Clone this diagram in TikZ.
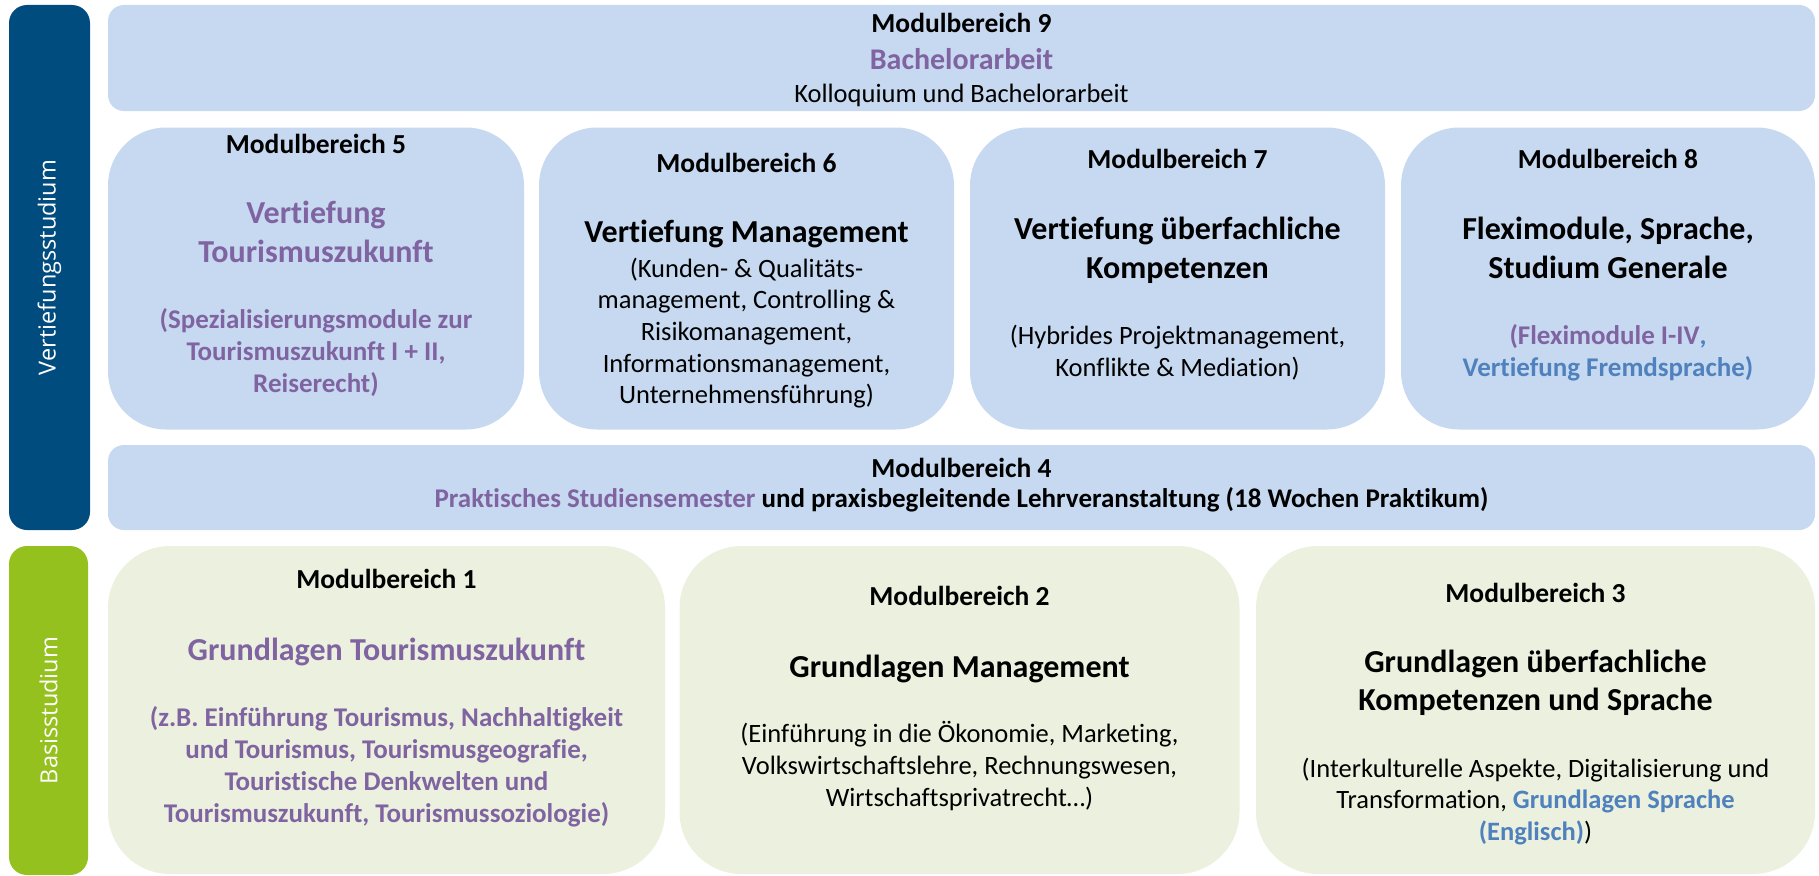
\documentclass[tikz,border=0pt]{standalone}
\usepackage{fontspec}
\setmainfont{Carlito}[Ligatures={NoCommon,TeX}]
\newfontfamily\sidefont{Open Sans}
\definecolor{lblue}{HTML}{C6D9F0}
\definecolor{lgreen}{HTML}{EBF1DE}
\definecolor{dblue}{HTML}{014C7F}
\definecolor{bgreen}{HTML}{95C11F}
\definecolor{lila}{HTML}{8064A2}
\definecolor{tblue}{HTML}{4F81BD}
\tikzset{
  bluebox/.style={fill=lblue, draw=none, rounded corners=58pt, inner sep=0},
  greenbox/.style={fill=lgreen, draw=none, rounded corners=62pt, inner sep=0},
  widebox/.style={fill=lblue, draw=none, rounded corners=16pt, inner sep=0},
  sidebar/.style={draw=none, rounded corners=18pt, inner sep=0},
  sidetext/.style={rotate=90, text=white, font=\sidefont\fontsize{23.5}{28}\selectfont, inner sep=0},
  hdr/.style={anchor=base, inner sep=0, font=\fontsize{27.5}{33}\selectfont\bfseries},
  ttl/.style={anchor=base, inner sep=0, font=\fontsize{32}{39}\selectfont\bfseries},
  btxt/.style={anchor=base, inner sep=0, font=\fontsize{27}{33}\selectfont\bfseries},
  bdy/.style={anchor=base, inner sep=0, font=\fontsize{26.5}{32}\selectfont},
}
\begin{document}
\begin{tikzpicture}[x=1pt, y=-1pt]
\useasboundingbox (0,0) rectangle (1819,875);
% side bars
\node[sidebar, fill=dblue, minimum width=81pt, minimum height=525pt] (vbar) at (49.5,267.5) {};
\node[sidebar, fill=bgreen, minimum width=79pt, minimum height=329pt] (bbar) at (48.5,710.5) {};
\node[sidetext] (vtxt) at (vbar.center) {Vertiefungsstudium};
\node[sidetext] (btxt0) at (bbar.center) {Basisstudium};
% boxes
\node[widebox, minimum width=1707pt, minimum height=106pt] (mb9) at (961.5,58) {};
\node[bluebox, minimum width=416pt, minimum height=302pt] (mb5) at (316,278.5) {};
\node[bluebox, minimum width=415pt, minimum height=302pt] (mb6) at (746.5,278.5) {};
\node[bluebox, minimum width=415pt, minimum height=302pt] (mb7) at (1177.5,278.5) {};
\node[bluebox, minimum width=414pt, minimum height=302pt] (mb8) at (1608,278.5) {};
\node[widebox, minimum width=1707pt, minimum height=85pt] (mb4) at (961.5,487.5) {};
\node[greenbox, minimum width=557pt, minimum height=328pt] (mb1) at (386.5,710) {};
\node[greenbox, minimum width=560pt, minimum height=328pt] (mb2) at (959.5,710) {};
\node[greenbox, minimum width=559pt, minimum height=328pt] (mb3) at (1535.5,710) {};
% MB9
\node[hdr] (mb9h) at (961.5,33) {Modulbereich 9};
\node[ttl, text=lila, font=\fontsize{30}{36}\selectfont\bfseries] (mb9t) at (961.5,70) {Bachelorarbeit};
\node[bdy] (mb9b) at (961.5,102) {Kolloquium und Bachelorarbeit};
% MB5
\node[hdr] (mb5h) at (316,153) {Modulbereich 5};
\node[ttl, text=lila] (mb5t1) at (316,223) {Vertiefung};
\node[ttl, text=lila] (mb5t2) at (316,262) {Tourismuszukunft};
\node[btxt, text=lila] (mb5b1) at (316,328) {(Spezialisierungsmodule zur};
\node[btxt, text=lila] (mb5b2) at (316,360) {Tourismuszukunft I + II,};
\node[btxt, text=lila] (mb5b3) at (316,392) {Reiserecht)};
% MB6
\node[hdr] (mb6h) at (746.5,172) {Modulbereich 6};
\node[ttl] (mb6t) at (746.5,242) {Vertiefung Management};
\node[bdy] (mb6b1) at (746.5,277) {(Kunden- \& Qualitäts-};
\node[bdy] (mb6b2) at (746.5,308) {management, Controlling \&};
\node[bdy] (mb6b3) at (746.5,340) {Risikomanagement,};
\node[bdy] (mb6b4) at (746.5,372) {Informationsmanagement,};
\node[bdy] (mb6b5) at (746.5,403) {Unternehmensführung)};
% MB7
\node[hdr] (mb7h) at (1177.5,168) {Modulbereich 7};
\node[ttl] (mb7t1) at (1177.5,239) {Vertiefung überfachliche};
\node[ttl] (mb7t2) at (1177.5,278) {Kompetenzen};
\node[bdy] (mb7b1) at (1177.5,344) {(Hybrides Projektmanagement,};
\node[bdy] (mb7b2) at (1177.5,376) {Konflikte \& Mediation)};
% MB8
\node[hdr] (mb8h) at (1608,168) {Modulbereich 8};
\node[ttl] (mb8t1) at (1608,239) {Fleximodule, Sprache,};
\node[ttl] (mb8t2) at (1608,278) {Studium Generale};
\node[btxt] (mb8b1) at (1608,344) {\textcolor{lila}{(Fleximodule I-IV}\textcolor{tblue}{,}};
\node[btxt, text=tblue] (mb8b2) at (1608,376) {Vertiefung Fremdsprache)};
% MB4
\node[hdr] (mb4h) at (961.5,477) {Modulbereich 4};
\node[btxt] (mb4b) at (961.5,507) {\textcolor{lila}{Praktisches Studiensemester} und praxisbegleitende Lehrveranstaltung (18 Wochen Praktikum)};
% MB1
\node[hdr] (mb1h) at (386.5,588) {Modulbereich 1};
\node[ttl, text=lila] (mb1t) at (386.5,660) {Grundlagen Tourismuszukunft};
\node[btxt, text=lila] (mb1b1) at (386.5,726) {(z.B. Einführung Tourismus, Nachhaltigkeit};
\node[btxt, text=lila] (mb1b2) at (386.5,758) {und Tourismus, Tourismusgeografie,};
\node[btxt, text=lila] (mb1b3) at (386.5,790) {Touristische Denkwelten und};
\node[btxt, text=lila] (mb1b4) at (386.5,822) {Tourismuszukunft, Tourismussoziologie)};
% MB2
\node[hdr] (mb2h) at (959.5,605) {Modulbereich 2};
\node[ttl] (mb2t) at (959.5,677) {Grundlagen Management};
\node[bdy] (mb2b1) at (959.5,742) {(Einführung in die Ökonomie, Marketing,};
\node[bdy] (mb2b2) at (959.5,774) {Volkswirtschaftslehre, Rechnungswesen,};
\node[bdy] (mb2b3) at (959.5,806) {Wirtschaftsprivatrecht…)};
% MB3
\node[hdr] (mb3h) at (1535.5,602) {Modulbereich 3};
\node[ttl] (mb3t1) at (1535.5,672) {Grundlagen überfachliche};
\node[ttl] (mb3t2) at (1535.5,710) {Kompetenzen und Sprache};
\node[bdy] (mb3b1) at (1535.5,777) {(Interkulturelle Aspekte, Digitalisierung und};
\node[bdy] (mb3b2) at (1535.5,808) {Transformation, \textcolor{tblue}{\bfseries Grundlagen Sprache}};
\node[bdy] (mb3b3) at (1535.5,840) {\textcolor{tblue}{\bfseries (Englisch)})};
\end{tikzpicture}
\end{document}
